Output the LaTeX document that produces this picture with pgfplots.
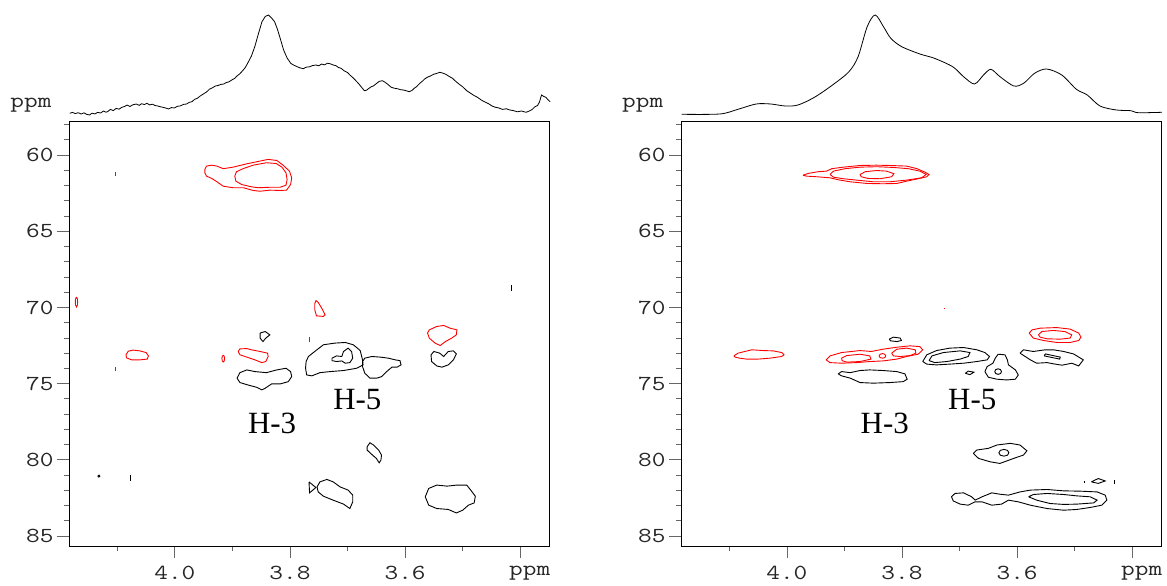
\documentclass[border=0pt]{standalone}
\usepackage{fontspec}
\setmainfont{Liberation Serif}
\newfontfamily\tickfont[FakeStretch=1.24]{Latin Modern Mono}
\usepackage{pgfplots}
\pgfplotsset{compat=1.18}
\definecolor{cred}{RGB}{255,0,0}
\tikzset{hl/.style={font=\fontsize{31}{31}\selectfont, inner sep=0pt}}
\pgfplotsset{
  nmrmap/.style={
    scale only axis, width=480bp, height=425bp,
    x dir=reverse, y dir=reverse,
    xmin=3.35, xmax=4.184, ymin=57.76, ymax=85.66,
    xtick={4.0,3.8,3.6,3.4},
    xticklabels={4.0,3.8,3.6,\rlap{\hspace*{-11bp}ppm}},
    minor xtick={4.1,3.9,3.7,3.5},
    ytick={60,65,70,75,80,85},
    yticklabels={60,65,70,75,80,85},
    minor ytick={58,59,...,85},
    xtick pos=left, ytick pos=left,
    tick align=outside, major tick length=12bp, minor tick length=5bp,
    every tick/.style={black!60, line width=0.8bp},
    tick label style={font=\tickfont\fontsize{21.5}{21.5}\selectfont, text=black!85},
    x tick label style={yshift=-5bp},
    axis line style={black, line width=0.9bp},
    clip=true,
  },
  spec/.style={
    scale only axis, width=480bp, height=103bp,
    x dir=reverse, xmin=3.35, xmax=4.184, ymin=0, ymax=103,
    hide axis, clip=false,
  },
  rc/.style={cred, line width=0.9bp},
  bc/.style={black, line width=0.9bp},
}
\begin{document}
\begin{tikzpicture}
\useasboundingbox (0bp,0bp) rectangle (1167bp,586bp);
\node[anchor=base, font=\tickfont\fontsize{21.5}{21.5}\selectfont, text=black!85] at (31bp,478.5bp) {ppm};
\node[anchor=base, font=\tickfont\fontsize{21.5}{21.5}\selectfont, text=black!85] at (642.7bp,478.5bp) {ppm};

% ---------------- left spectrum
\begin{axis}[spec, at={(69bp,468bp)}, anchor=south west]
\addplot[black, line width=0.8bp] coordinates {
(4.1826,4.7)(4.178,5.6)(4.173,4.4)(4.168,5.3)(4.163,4.0)(4.158,5.1)(4.153,3.6)(4.1483,3.0)(4.144,4.8)(4.139,4.1)
(4.134,5.6)(4.129,5.0)(4.124,7.0)(4.120,5.8)(4.1170,6.3)(4.112,8.6)(4.107,7.4)(4.102,9.6)(4.097,8.8)(4.0922,10.7)
(4.088,11.4)(4.083,12.9)(4.078,11.5)(4.073,13.2)(4.0671,14.0)(4.062,12.6)(4.058,14.3)(4.053,13.4)(4.0487,14.7)(4.044,13.1)
(4.039,13.8)(4.034,12.4)(4.0296,12.0)(4.025,11.2)(4.020,10.6)(4.015,9.8)(4.0110,9.0)(4.006,10.4)(4.001,10.0)(3.996,11.6)
(3.990,12.2)(3.985,13.6)(3.9798,14.0)(3.975,15.6)(3.970,16.4)(3.966,18.6)(3.9610,19.7)(3.956,22.0)(3.950,24.2)(3.945,26.0)
(3.940,28.8)(3.935,30.1)(3.9297,32.0)(3.925,32.5)(3.920,33.6)(3.915,34.0)(3.9113,35.3)(3.906,36.2)(3.900,38.4)(3.896,39.6)
(3.8922,42.0)(3.887,44.3)(3.882,47.5)(3.878,50.2)(3.8736,54.7)(3.867,62.0)(3.8612,71.3)(3.855,84.0)(3.8487,96.3)(3.843,101.5)
(3.8374,103.0)(3.832,100.0)(3.8268,96.3)(3.822,89.0)(3.818,81.5)(3.8111,68.0)(3.805,60.0)(3.7988,54.7)(3.794,53.0)(3.788,51.4)
(3.783,50.2)(3.7769,49.3)(3.772,50.8)(3.766,51.2)(3.761,52.4)(3.7550,53.0)(3.750,52.2)(3.745,54.0)(3.740,53.1)(3.735,54.8)
(3.7301,54.2)(3.725,53.0)(3.720,52.3)(3.716,50.6)(3.7113,49.7)(3.706,47.2)(3.700,45.5)(3.696,43.0)(3.6925,41.3)(3.687,38.2)
(3.681,34.5)(3.676,31.0)(3.6708,27.3)(3.667,27.8)(3.663,29.6)(3.659,31.2)(3.6551,32.0)(3.650,34.4)(3.645,36.6)(3.6395,37.3)
(3.635,35.8)(3.630,33.6)(3.6240,30.7)(3.619,29.8)(3.613,29.2)(3.608,28.3)(3.603,28.0)(3.598,27.2)(3.5927,26.3)(3.588,27.6)
(3.584,29.8)(3.5802,31.3)(3.575,34.4)(3.570,36.8)(3.566,39.0)(3.5616,40.7)(3.556,42.0)(3.551,43.6)(3.545,44.6)(3.5397,45.7)
(3.534,44.8)(3.529,43.6)(3.523,41.4)(3.5177,39.7)(3.512,36.6)(3.506,33.8)(3.500,31.2)(3.4929,27.3)(3.487,25.0)(3.480,22.4)
(3.474,20.6)(3.4678,18.0)(3.462,16.2)(3.455,14.3)(3.449,12.0)(3.4430,10.7)(3.437,10.0)(3.431,8.6)(3.424,9.2)(3.4179,8.0)
(3.412,7.4)(3.405,6.2)(3.398,7.0)(3.3899,5.7)(3.385,6.8)(3.380,8.2)(3.3743,11.3)(3.370,12.4)(3.3665,16.0)(3.3630,23.0)
(3.359,21.5)(3.3555,20.7)(3.352,18.4)(3.348,16.3)};
\end{axis}

% ---------------- right spectrum
\begin{axis}[spec, at={(681bp,468bp)}, anchor=south west]
\addplot[black, line width=0.8bp, smooth, tension=0.5] coordinates {
(4.1830,3.7)(4.1165,4.0)(4.0850,8.7)(4.0534,14.0)(4.0282,14.0)(4.0028,12.0)(3.9807,13.0)
(3.9522,20.7)(3.9207,33.0)(3.8922,46.3)(3.8763,61.3)(3.8605,91.3)(3.8466,103.0)(3.8322,91.3)
(3.8195,79.7)(3.8005,71.3)(3.7689,64.0)(3.7437,59.7)(3.7120,51.3)(3.6930,41.3)(3.6741,34.0)
(3.6583,43.0)(3.6456,48.7)(3.6297,41.3)(3.6057,32.0)(3.5887,34.7)(3.5697,44.7)(3.5489,49.0)
(3.5224,43.0)(3.4970,28.7)(3.4781,23.0)(3.4560,12.0)(3.4275,8.0)(3.4023,7.3)(3.3896,5.3)(3.3485,5.7)};
\end{axis}

% ---------------- left map
\begin{axis}[nmrmap, at={(69bp,40bp)}, anchor=south west]
\addplot[rc] coordinates {(3.948,60.94)(3.945,60.72)(3.936,60.66)(3.927,60.72)(3.916,60.89)(3.899,60.79)(3.875,60.57)(3.852,60.39)(3.838,60.28)(3.823,60.35)(3.812,60.66)(3.801,61.05)(3.797,61.49)(3.799,61.93)(3.806,62.30)(3.817,62.32)(3.835,62.30)(3.852,62.37)(3.864,62.32)(3.881,62.14)(3.899,62.14)(3.916,62.04)(3.927,61.75)(3.936,61.53)(3.945,61.38)(3.948,61.16)(3.948,60.94)};
\addplot[rc] coordinates {(3.896,61.38)(3.893,61.09)(3.881,60.88)(3.864,60.66)(3.841,60.50)(3.824,60.55)(3.814,60.79)(3.807,61.16)(3.805,61.60)(3.807,61.97)(3.817,62.11)(3.835,62.11)(3.855,62.14)(3.867,62.08)(3.884,61.93)(3.894,61.71)(3.896,61.38)};
\addplot[rc] coordinates {(4.103,61.08)(4.103,61.38)};
\addplot[rc] coordinates {(4.171,69.31)(4.1693,69.45)(4.169,69.64)(4.1693,69.83)(4.171,69.97)(4.1727,69.83)(4.173,69.64)(4.1727,69.45)(4.171,69.31)};
\addplot[rc] coordinates {(4.085,73.11)(4.081,72.87)(4.0725,72.80)(4.061,72.85)(4.050,72.96)(4.046,73.18)(4.048,73.39)(4.061,73.44)(4.075,73.44)(4.084,73.31)(4.085,73.11)};
\addplot[rc] coordinates {(4.104,73.9)(4.104,74.2)};
\addplot[rc] coordinates {(3.916,73.14)(3.9144,73.2)(3.9137,73.36)(3.9144,73.52)(3.916,73.58)(3.9176,73.52)(3.9183,73.36)(3.9176,73.2)(3.916,73.14)};
\addplot[rc] coordinates {(3.755,69.54)(3.751,69.67)(3.745,70.04)(3.739,70.48)(3.742,70.59)(3.754,70.55)(3.757,70.15)(3.757,69.76)(3.755,69.54)};
\addplot[rc] coordinates {(3.767,71.95)(3.767,72.30)};
\addplot[rc] coordinates {(3.890,72.89)(3.887,72.72)(3.875,72.70)(3.867,72.78)(3.852,72.89)(3.839,73.00)(3.838,73.22)(3.842,73.55)(3.849,73.62)(3.861,73.44)(3.875,73.26)(3.887,73.11)(3.890,72.89)};
\addplot[rc] coordinates {(3.561,71.68)(3.558,71.47)(3.545,71.25)(3.533,71.18)(3.522,71.36)(3.510,71.47)(3.511,71.80)(3.519,72.01)(3.530,72.24)(3.539,72.50)(3.548,72.34)(3.558,72.01)(3.561,71.68)};
\addplot[bc] coordinates {(3.852,71.68)(3.843,71.58)(3.835,71.80)(3.842,72.01)(3.847,72.24)(3.852,72.01)(3.852,71.68)};
\addplot[bc] coordinates {(3.892,74.64)(3.887,74.28)(3.875,74.10)(3.861,74.21)(3.841,74.28)(3.823,74.10)(3.807,73.99)(3.799,74.21)(3.797,74.54)(3.803,74.87)(3.817,75.02)(3.832,75.02)(3.843,75.30)(3.849,75.41)(3.858,75.24)(3.873,75.09)(3.887,74.93)(3.892,74.64)};
\addplot[bc] coordinates {(3.772,73.55)(3.768,73.22)(3.757,72.89)(3.742,72.45)(3.722,72.34)(3.704,72.30)(3.690,72.45)(3.678,72.83)(3.674,73.44)(3.673,73.77)(3.684,73.99)(3.707,74.14)(3.730,74.21)(3.748,74.28)(3.762,74.49)(3.771,74.43)(3.773,73.99)(3.772,73.55)};
\addplot[bc] coordinates {(3.727,73.33)(3.719,73.18)(3.710,73.22)(3.707,72.89)(3.699,72.67)(3.693,72.89)(3.691,73.33)(3.696,73.62)(3.704,73.66)(3.710,73.51)(3.719,73.55)(3.727,73.49)(3.727,73.33)};
\addplot[bc] coordinates {(3.674,73.55)(3.670,73.33)(3.658,73.22)(3.643,73.26)(3.629,73.33)(3.617,73.44)(3.609,73.49)(3.607,73.77)(3.614,73.92)(3.623,73.92)(3.632,74.21)(3.641,74.54)(3.649,74.64)(3.661,74.64)(3.670,74.32)(3.674,73.88)(3.674,73.55)};
\addplot[bc] coordinates {(3.555,73.11)(3.550,72.89)(3.540,73.00)(3.533,73.22)(3.525,72.89)(3.516,72.85)(3.511,73.05)(3.516,73.44)(3.525,73.77)(3.536,73.92)(3.545,73.84)(3.554,73.55)(3.555,73.11)};
\addplot[bc] coordinates {(3.666,79.14)(3.661,78.88)(3.655,79.03)(3.646,79.36)(3.641,79.69)(3.642,80.02)(3.645,80.20)(3.650,79.91)(3.660,79.58)(3.666,79.36)(3.666,79.14)};
\addplot[bc] coordinates {(3.767,81.45)(3.755,81.82)(3.766,82.17)(3.767,81.45)};
\addplot[bc] coordinates {(3.753,81.78)(3.748,81.45)(3.736,81.29)(3.725,81.45)(3.713,81.78)(3.699,81.99)(3.691,82.32)(3.691,82.76)(3.696,83.20)(3.707,82.91)(3.725,82.65)(3.742,82.39)(3.751,82.11)(3.753,81.78)};
\addplot[bc] coordinates {(3.565,82.43)(3.559,81.88)(3.545,81.66)(3.527,81.73)(3.510,81.66)(3.493,81.66)(3.486,81.99)(3.478,82.39)(3.480,82.83)(3.490,82.98)(3.500,83.31)(3.511,83.49)(3.525,83.26)(3.545,83.20)(3.559,82.98)(3.565,82.43)};
\addplot[bc] coordinates {(4.132,81.0)(4.1303,81.07)(4.132,81.14)(4.1337,81.07)(4.132,81.0)};
\addplot[black, line width=1.8bp] coordinates {(4.077,80.98)(4.077,81.38)};
\addplot[bc] coordinates {(3.416,68.5)(3.416,68.9)};
\node[hl] at (axis cs:3.831,77.59) {H-3};
\node[hl] at (axis cs:3.683,76.07) {H-5};
\end{axis}

% ---------------- right map
\begin{axis}[nmrmap, at={(681bp,40bp)}, anchor=south west]
\addplot[rc] coordinates {(3.972,61.32)(3.963,61.20)(3.946,61.09)(3.931,61.05)(3.922,60.89)(3.902,60.79)(3.873,60.68)(3.844,60.66)(3.821,60.68)(3.792,60.72)(3.774,60.89)(3.760,61.12)(3.753,61.27)(3.757,61.42)(3.772,61.55)(3.792,61.71)(3.809,61.86)(3.833,61.88)(3.861,61.86)(3.890,61.75)(3.908,61.64)(3.925,61.49)(3.948,61.42)(3.966,61.38)(3.972,61.32)};
\addplot[rc] coordinates {(3.925,61.27)(3.919,61.05)(3.899,60.89)(3.873,60.79)(3.844,60.76)(3.815,60.81)(3.789,60.89)(3.769,61.05)(3.758,61.27)(3.766,61.49)(3.792,61.64)(3.821,61.75)(3.850,61.75)(3.879,61.64)(3.902,61.55)(3.919,61.45)(3.925,61.27)};
\addplot[rc] coordinates {(3.873,61.27)(3.864,61.09)(3.844,61.01)(3.827,61.05)(3.814,61.22)(3.818,61.42)(3.838,61.55)(3.859,61.53)(3.871,61.42)(3.873,61.27)};
\addplot[rc] coordinates {(4.092,73.18)(4.085,73.00)(4.073,72.89)(4.061,72.78)(4.041,72.83)(4.024,72.85)(4.009,72.96)(4.005,73.11)(4.009,73.22)(4.030,73.33)(4.050,73.39)(4.070,73.39)(4.082,73.33)(4.090,73.26)(4.092,73.18)};
\addplot[rc] coordinates {(3.932,73.44)(3.925,73.18)(3.905,72.96)(3.873,72.83)(3.853,72.89)(3.833,72.74)(3.809,72.61)(3.786,72.52)(3.769,72.57)(3.764,72.78)(3.772,73.07)(3.792,73.22)(3.809,73.39)(3.833,73.51)(3.856,73.55)(3.879,73.62)(3.905,73.66)(3.925,73.62)(3.932,73.44)};
\addplot[rc] coordinates {(3.905,73.33)(3.896,73.16)(3.873,73.07)(3.856,73.18)(3.854,73.39)(3.873,73.55)(3.896,73.59)(3.904,73.49)(3.905,73.33)};
\addplot[rc] coordinates {(3.834,73.03)(3.8299,73.07)(3.8282,73.18)(3.8299,73.29)(3.834,73.33)(3.8381,73.29)(3.8398,73.18)(3.8381,73.07)(3.834,73.03)};
\addplot[rc] coordinates {(3.818,73.00)(3.809,72.74)(3.792,72.67)(3.777,72.78)(3.776,73.00)(3.786,73.16)(3.803,73.22)(3.815,73.18)(3.818,73.00)};
\addplot[rc] coordinates {(3.579,71.68)(3.574,71.47)(3.560,71.36)(3.531,71.32)(3.508,71.42)(3.493,71.68)(3.489,71.95)(3.493,72.17)(3.508,72.30)(3.531,72.30)(3.554,72.17)(3.572,72.01)(3.579,71.68)};
\addplot[rc] coordinates {(3.563,71.80)(3.557,71.58)(3.537,71.51)(3.517,71.58)(3.505,71.80)(3.508,72.01)(3.525,72.08)(3.548,72.06)(3.560,71.95)(3.563,71.80)};
\addplot[rc] coordinates {(3.726,70.05)(3.726,70.13)};
\addplot[bc] coordinates {(3.822,72.08)(3.815,71.95)(3.803,72.01)(3.801,72.17)(3.809,72.24)(3.820,72.19)(3.822,72.08)};
\addplot[bc] coordinates {(3.911,74.36)(3.905,74.21)(3.890,74.28)(3.873,74.14)(3.856,74.10)(3.833,74.14)(3.809,74.21)(3.795,74.36)(3.791,74.71)(3.798,74.87)(3.821,74.93)(3.850,74.97)(3.873,74.93)(3.890,74.64)(3.905,74.49)(3.911,74.36)};
\addplot[bc] coordinates {(3.764,73.55)(3.757,73.11)(3.740,72.83)(3.717,72.67)(3.693,72.63)(3.670,72.78)(3.656,72.96)(3.648,73.22)(3.652,73.44)(3.670,73.55)(3.693,73.66)(3.717,73.72)(3.740,73.77)(3.757,73.72)(3.764,73.55)};
\addplot[bc] coordinates {(3.753,73.49)(3.748,73.18)(3.728,72.96)(3.699,72.85)(3.682,72.96)(3.685,73.22)(3.699,73.39)(3.722,73.55)(3.743,73.62)(3.753,73.49)};
\addplot[bc] coordinates {(3.690,74.32)(3.685,74.18)(3.675,74.25)(3.682,74.41)(3.690,74.32)};
\addplot[bc] coordinates {(3.656,74.21)(3.652,73.88)(3.642,73.66)(3.638,73.33)(3.633,73.07)(3.621,73.11)(3.617,73.44)(3.615,73.77)(3.603,74.10)(3.598,74.43)(3.603,74.71)(3.618,74.76)(3.635,74.71)(3.650,74.58)(3.656,74.21)};
\addplot[bc] coordinates {(3.633,74.03)(3.6289,74.08)(3.6272,74.21)(3.6289,74.34)(3.633,74.39)(3.6371,74.34)(3.6388,74.21)(3.6371,74.08)(3.633,74.03)};
\addplot[bc] coordinates {(3.595,73.00)(3.589,72.78)(3.572,72.89)(3.551,72.78)(3.537,72.78)(3.519,72.89)(3.502,73.05)(3.485,73.44)(3.493,73.84)(3.505,73.66)(3.522,73.79)(3.537,73.70)(3.548,73.62)(3.566,73.66)(3.577,73.44)(3.595,73.00)};
\addplot[bc] coordinates {(3.553,73.18)(3.551,73.05)(3.525,73.26)(3.526,73.39)(3.553,73.18)};
\addplot[bc] coordinates {(3.676,79.58)(3.670,79.36)(3.650,79.25)(3.635,79.03)(3.612,78.92)(3.595,79.03)(3.583,79.41)(3.589,79.69)(3.606,79.91)(3.630,80.24)(3.647,80.13)(3.667,79.91)(3.676,79.58)};
\addplot[bc] coordinates {(3.623,79.32)(3.6168,79.38)(3.6143,79.54)(3.6168,79.70)(3.623,79.76)(3.6292,79.70)(3.6317,79.54)(3.6292,79.38)(3.623,79.32)};
\addplot[black, line width=1.6bp] coordinates {(3.4845,81.45)(3.4815,81.45)};
\addplot[bc] coordinates {(3.471,81.45)(3.459,81.23)(3.447,81.39)(3.459,81.55)(3.471,81.45)};
\addplot[bc] coordinates {(3.431,81.33)(3.431,81.60)};
\addplot[bc] coordinates {(3.714,82.43)(3.708,82.21)(3.693,82.17)(3.679,82.43)(3.673,82.65)(3.661,82.43)(3.644,82.17)(3.630,82.26)(3.615,82.32)(3.595,82.11)(3.577,81.99)(3.548,81.95)(3.519,82.04)(3.490,82.06)(3.461,82.11)(3.447,82.32)(3.444,82.65)(3.453,82.98)(3.473,83.13)(3.496,83.26)(3.519,83.31)(3.548,83.20)(3.577,82.98)(3.598,82.76)(3.615,82.65)(3.627,82.91)(3.644,82.98)(3.661,82.76)(3.673,82.76)(3.685,82.98)(3.699,82.91)(3.711,82.70)(3.714,82.43)};
\addplot[bc] coordinates {(3.580,82.43)(3.572,82.28)(3.548,82.21)(3.519,82.28)(3.496,82.37)(3.473,82.43)(3.461,82.65)(3.467,82.83)(3.496,82.91)(3.519,82.93)(3.543,82.87)(3.566,82.65)(3.580,82.43)};
\node[hl] at (axis cs:3.830,77.61) {H-3};
\node[hl] at (axis cs:3.678,76.03) {H-5};
\end{axis}
\end{tikzpicture}
\end{document}
